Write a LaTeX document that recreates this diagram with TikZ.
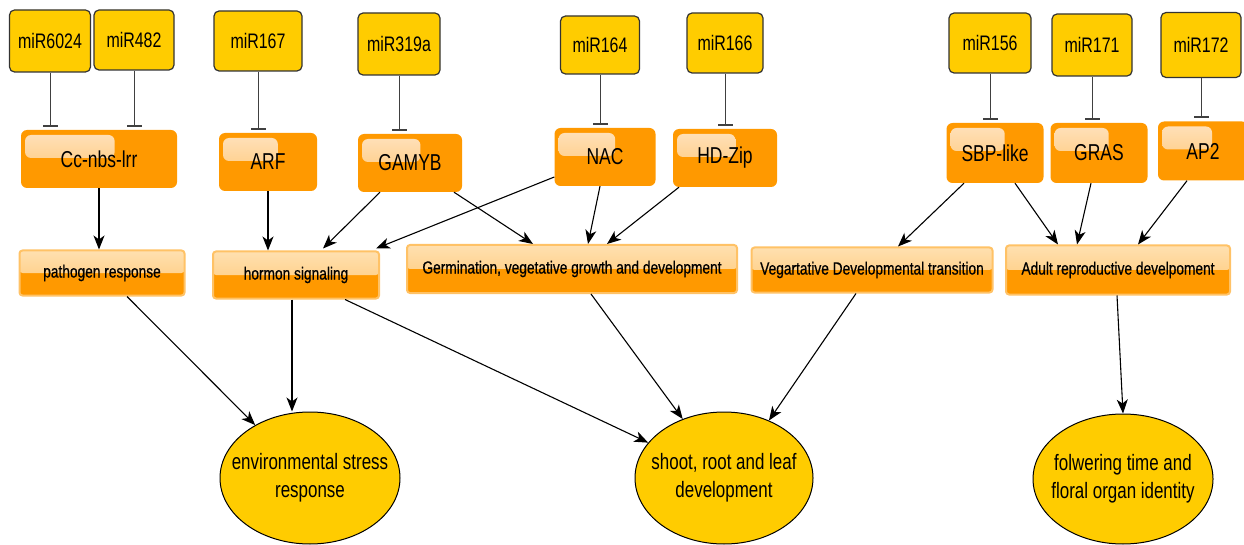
\documentclass[tikz,border=0pt]{standalone}
\usepackage{fontspec}
\setmainfont{Liberation Sans}[FakeStretch=0.76]
\newfontfamily\procfont{Liberation Sans}[FakeStretch=0.78,FakeBold=0.6]
\usepackage{tikz}
\usetikzlibrary{arrows.meta,shapes.geometric,calc}

\definecolor{mirgold}{HTML}{FFCC00}
\definecolor{tforange}{HTML}{FF9900}
\definecolor{tfhigh}{HTML}{FFE2BE}
\definecolor{proclight}{HTML}{FFE0B0}
\definecolor{procmid}{HTML}{FFC670}
\definecolor{procedge}{HTML}{FFC266}

\tikzset{
  mirbox/.style={draw=black!80, line width=1.2pt, fill=mirgold, rounded corners=5pt,
    minimum width=80pt, minimum height=60pt, inner sep=0pt,
    font=\fontsize{21}{24}\selectfont},
  tfbox/.style={fill=tforange, rounded corners=6pt, minimum height=58pt, inner sep=0pt,
    font=\fontsize{23}{26}\selectfont,
    path picture={
      \fill[rounded corners=6pt, top color=tfhigh, bottom color=tforange!60!white]
        ([shift={(4pt,-5pt)}]path picture bounding box.north west) rectangle
        ($(path picture bounding box.north west)!0.6!(path picture bounding box.north east)+(0pt,-28pt)$);
    }},
  procbox/.style={draw=procedge, line width=2pt, fill=tforange, rounded corners=3pt,
    minimum height=46pt, inner sep=0pt, font=\procfont\fontsize{17.6}{21}\selectfont,
    path picture={
      \fill[top color=proclight, bottom color=procmid]
        (path picture bounding box.north west) rectangle
        ($(path picture bounding box.north east)!0.5!(path picture bounding box.south east)$);
    }},
  outcome/.style={ellipse, draw=black, line width=1pt, fill=mirgold, inner xsep=-16pt, inner ysep=0pt,
    minimum width=180pt, minimum height=132pt, align=center,
    font=\fontsize{22.3}{28}\selectfont},
  inhib/.style={draw=black!75, line width=1pt, -{Bar[width=15pt,line width=2.2pt]}, shorten >=3pt},
  act/.style={draw=black, line width=1.1pt, -{Stealth[length=14pt,width=11pt,inset=4pt]}}
}

\begin{document}
\begin{tikzpicture}[x=1pt,y=-1pt]
  \useasboundingbox (0,0) rectangle (1244,545);
  % microRNAs
  \node[mirbox, minimum width=81pt, minimum height=62pt] (m6024) at (50,41) {miR6024};
  \node[mirbox] (m482) at (134,40) {miR482};
  \node[mirbox, minimum width=88pt] (m167) at (258,41) {miR167};
  \node[mirbox, minimum width=82pt, minimum height=62pt] (m319) at (399,44) {miR319a};
  \node[mirbox, minimum width=79pt, minimum height=58pt] (m164) at (600,45) {miR164};
  \node[mirbox, minimum width=76pt] (m166) at (725,43) {miR166};
  \node[mirbox, minimum width=82pt] (m156) at (990,43) {miR156};
  \node[mirbox, minimum height=62pt] (m171) at (1092,45) {miR171};
  \node[mirbox, minimum height=65pt] (m172) at (1201,45) {miR172};
  % targets
  \node[tfbox, minimum width=156pt] (ccnbs) at (99,159) {Cc-nbs-lrr};
  \node[tfbox, minimum width=98pt] (arf) at (268,162) {ARF};
  \node[tfbox, minimum width=104pt] (gamyb) at (410,163) {GAMYB};
  \node[tfbox, minimum width=101pt] (nac) at (605,157) {NAC};
  \node[tfbox, minimum width=104pt] (hdzip) at (725,158) {HD-Zip};
  \node[tfbox, minimum width=97pt, minimum height=60pt] (sbp) at (995,153) {SBP-like};
  \node[tfbox, minimum width=97pt, minimum height=60pt] (gras) at (1099,153) {GRAS};
  \node[tfbox, minimum width=90pt, minimum height=59pt] (ap2) at (1203,151) {AP2};
  % processes
  \node[procbox, minimum width=165pt, minimum height=45pt] (patho) at (102,273) {pathogen response};
  \node[procbox, minimum width=166pt, minimum height=47pt] (hormon) at (296,275) {hormon signaling};
  \node[procbox, minimum width=330pt, minimum height=48pt] (germ) at (572,269) {Germination, vegetative growth and development};
  \node[procbox, minimum width=241pt, minimum height=45pt] (veg) at (872,270) {Vegartative Developmental transition};
  \node[procbox, minimum width=224pt, minimum height=49pt] (adult) at (1118,270) {Adult reproductive develpoment};
  % outcomes
  \node[outcome] (env) at (310,478) {environmental stress\\response};
  \node[outcome, minimum width=178pt] (shoot) at (724,478) {shoot, root and leaf\\development};
  \node[outcome, minimum height=130pt] (flower) at (1123,479) {folwering time and\\floral organ identity};

  % repression
  \draw[inhib] (m6024.south) -- (m6024.south |- ccnbs.north);
  \draw[inhib] (m482.south) -- (m482.south |- ccnbs.north);
  \draw[inhib] (m167.south) -- (m167.south |- arf.north);
  \draw[inhib] (m319.south) -- (m319.south |- gamyb.north);
  \draw[inhib] (m164.south) -- (m164.south |- nac.north);
  \draw[inhib] (m166.south) -- (m166.south |- hdzip.north);
  \draw[inhib] (m156.south) -- (m156.south |- sbp.north);
  \draw[inhib] (m171.south) -- (m171.south |- gras.north);
  \draw[inhib] (m172.south) -- (m172.south |- ap2.north);

  % targets to processes
  \draw[act] (ccnbs.south) -- (ccnbs.south |- patho.north);
  \draw[act] (arf.south) -- (arf.south |- hormon.north);
  \draw[act] ([xshift=-30pt]gamyb.south) -- ([xshift=27pt,yshift=2pt]hormon.north);
  \draw[act] ([yshift=-20pt]nac.west) -- ([xshift=-4pt,yshift=2pt]hormon.north east);
  \draw[act] ([xshift=44pt]gamyb.south) -- ([xshift=-39pt]germ.north);
  \draw[act] ([xshift=-5pt]nac.south) -- ([xshift=16pt]germ.north);
  \draw[act] ([xshift=-46pt]hdzip.south) -- ([xshift=35pt]germ.north);
  \draw[act] ([xshift=-31pt]sbp.south) -- ([xshift=26pt]veg.north);
  \draw[act] ([xshift=20pt]sbp.south) -- ([xshift=-60pt]adult.north);
  \draw[act] ([xshift=-8pt]gras.south) -- ([xshift=-41pt]adult.north);
  \draw[act] ([xshift=-16pt]ap2.south) -- ([xshift=20pt]adult.north);

  % processes to outcomes
  \draw[act] ([xshift=25pt]patho.south) -- (env.136);
  \draw[act] ([xshift=-4pt]hormon.south) -- ([xshift=-4pt]hormon.south |- env.north);
  \draw[act] ([xshift=49pt]hormon.south) -- (shoot.155);
  \draw[act] ([xshift=19pt]germ.south) -- (shoot.125);
  \draw[act] ([xshift=-16pt]veg.south) -- (shoot.52);
  \draw[act] ([xshift=-1pt]adult.south) -- (flower.north);
\end{tikzpicture}
\end{document}
